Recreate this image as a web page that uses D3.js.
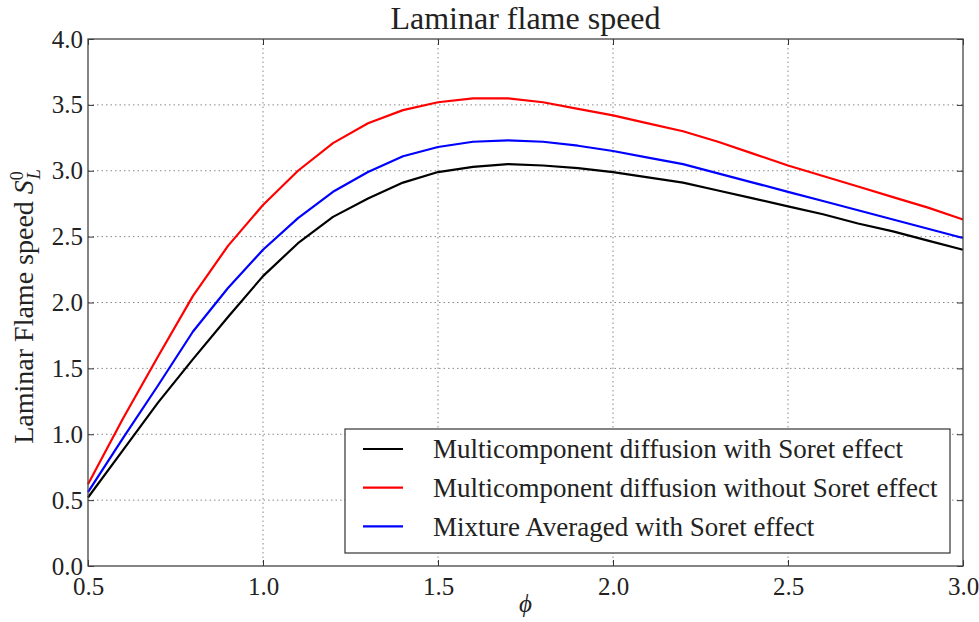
<!DOCTYPE html>
<html>
<head>
<meta charset="utf-8">
<script src="https://cdn.jsdelivr.net/npm/d3@7.9.0/dist/d3.min.js"></script>
<style>
  body { margin: 0; background: #fff; }
  text { font-family: "Liberation Serif", "DejaVu Serif", serif; fill: #222; }
</style>
</head>
<body>
<div id="chart"></div>
<script>
// equivalence ratio
const phi = [0.5, 0.6, 0.7, 0.8, 0.9, 1.0, 1.1, 1.2, 1.3, 1.4, 1.5, 1.6, 1.7, 1.8, 1.9,
             2.0, 2.1, 2.2, 2.3, 2.4, 2.5, 2.6, 2.7, 2.8, 2.9, 3.0];
// Multicomponent diffusion with Soret effect
const multiSoret = [0.52, 0.88, 1.24, 1.57, 1.89, 2.20, 2.45, 2.65, 2.79, 2.91, 2.99, 3.03, 3.05, 3.04, 3.02,
                    2.99, 2.95, 2.91, 2.85, 2.79, 2.73, 2.67, 2.60, 2.54, 2.47, 2.40];
// Multicomponent diffusion without Soret effect
const multiNoSoret = [0.62, 1.12, 1.59, 2.05, 2.43, 2.74, 3.00, 3.21, 3.36, 3.46, 3.52, 3.55, 3.55, 3.52, 3.47,
                      3.42, 3.36, 3.30, 3.22, 3.13, 3.04, 2.96, 2.88, 2.80, 2.72, 2.63];
// Mixture Averaged with Soret effect
const mixSoret = [0.56, 0.97, 1.37, 1.78, 2.11, 2.40, 2.64, 2.84, 2.99, 3.11, 3.18, 3.22, 3.23, 3.22, 3.19,
                  3.15, 3.10, 3.05, 2.98, 2.91, 2.84, 2.77, 2.70, 2.63, 2.56, 2.49];

const seriesNames = ["Multicomponent diffusion with Soret effect",
                     "Multicomponent diffusion without Soret effect",
                     "Mixture Averaged with Soret effect"];
const seriesColors = ["#000000", "#ff0000", "#0000ff"];
const xTicks = [0.5, 1.0, 1.5, 2.0, 2.5, 3.0];
const yTicks = [0.0, 0.5, 1.0, 1.5, 2.0, 2.5, 3.0, 3.5, 4.0];

const W = 979, H = 622;
const margin = {top: 39, right: 16, bottom: 56, left: 88},
    width = W - margin.left - margin.right,
    height = H - margin.top - margin.bottom;

const svg = d3.select("#chart")
  .append("svg")
    .attr("width", W)
    .attr("height", H)
  .append("g")
    .attr("transform", `translate(${margin.left},${margin.top})`);

const x = d3.scaleLinear().domain([0.5, 3.0]).range([0, width]);
const y = d3.scaleLinear().domain([0, 4]).range([height, 0]);

// grid
svg.append("g")
  .selectAll("line.vg")
  .data(xTicks.slice(1, -1))
  .join("line")
    .attr("x1", d => x(d)).attr("x2", d => x(d))
    .attr("y1", 0).attr("y2", height)
    .attr("stroke", "#888").attr("stroke-width", 1)
    .attr("stroke-dasharray", "1.5,3");
svg.append("g")
  .selectAll("line.hg")
  .data(yTicks.slice(1, -1))
  .join("line")
    .attr("x1", 0).attr("x2", width)
    .attr("y1", d => y(d)).attr("y2", d => y(d))
    .attr("stroke", "#888").attr("stroke-width", 1)
    .attr("stroke-dasharray", "1.5,3");

// axes, ticks pointing inward like matplotlib classic
const fmt = d3.format(".1f");
const axB = svg.append("g")
    .attr("transform", `translate(0,${height})`)
    .call(d3.axisBottom(x).tickValues(xTicks).tickFormat(fmt).tickSizeInner(-6).tickSizeOuter(0).tickPadding(9));
const axL = svg.append("g")
    .call(d3.axisLeft(y).tickValues(yTicks).tickFormat(fmt).tickSizeInner(-6).tickSizeOuter(0).tickPadding(5));
svg.append("g")
    .call(d3.axisTop(x).tickValues(xTicks).tickFormat("").tickSizeInner(-6).tickSizeOuter(0));
svg.append("g")
    .attr("transform", `translate(${width},0)`)
    .call(d3.axisRight(y).tickValues(yTicks).tickFormat("").tickSizeInner(-6).tickSizeOuter(0));
svg.selectAll(".domain").remove();
svg.selectAll(".tick line").attr("stroke", "#333");
axB.selectAll("text").style("font-size", "25px").attr("fill", "#222")
    .attr("dy", "0.8em");
axL.selectAll("text").style("font-size", "25px").attr("fill", "#222").attr("dy", "0.32em");

// lines
const allSeries = [multiSoret, multiNoSoret, mixSoret];
const line = d3.line().x((d, i) => x(phi[i])).y(d => y(d));
svg.append("g")
  .selectAll("path")
  .data(allSeries)
  .join("path")
    .attr("d", d => line(d))
    .attr("fill", "none")
    .attr("stroke", (d, i) => seriesColors[i])
    .attr("stroke-width", 2.2)
    .attr("stroke-linejoin", "round");

// frame
svg.append("rect")
    .attr("width", width).attr("height", height)
    .attr("fill", "none").attr("stroke", "#444").attr("stroke-width", 1.3);

// legend
const lg = svg.append("g").attr("transform", `translate(${345 - margin.left},${429 - margin.top})`);
lg.append("rect")
    .attr("width", 605).attr("height", 124)
    .attr("fill", "#fff").attr("stroke", "#333").attr("stroke-width", 1.2);
seriesNames.forEach((name, i) => {
  const ry = 20 + i * 38.7;
  lg.append("line")
      .attr("x1", 18).attr("x2", 58).attr("y1", ry).attr("y2", ry)
      .attr("stroke", seriesColors[i]).attr("stroke-width", 2.2);
  lg.append("text")
      .attr("x", 88).attr("y", ry).attr("dy", "0.35em")
      .style("font-size", "27px")
      .text(name);
});

// title and labels
svg.append("text")
    .attr("x", width / 2).attr("y", -10)
    .attr("text-anchor", "middle")
    .style("font-size", "32px")
    .text("Laminar flame speed");
svg.append("text")
    .attr("x", width / 2).attr("y", height + 46)
    .attr("text-anchor", "middle")
    .style("font-size", "25px").style("font-style", "italic")
    .text("ϕ");
const yl = svg.append("text")
    .attr("transform", `translate(${33 - margin.left},${height / 2 + 4}) rotate(-90)`)
    .attr("text-anchor", "middle")
    .style("font-size", "28px");
yl.append("tspan").text("Laminar Flame speed ");
yl.append("tspan").style("font-style", "italic").text("S");
yl.append("tspan").attr("dy", "-0.55em").style("font-size", "18px").text("0");
yl.append("tspan").attr("dy", "0.95em").attr("dx", "-0.45em").style("font-size", "18px").style("font-style", "italic").text("L");
</script>
</body>
</html>
